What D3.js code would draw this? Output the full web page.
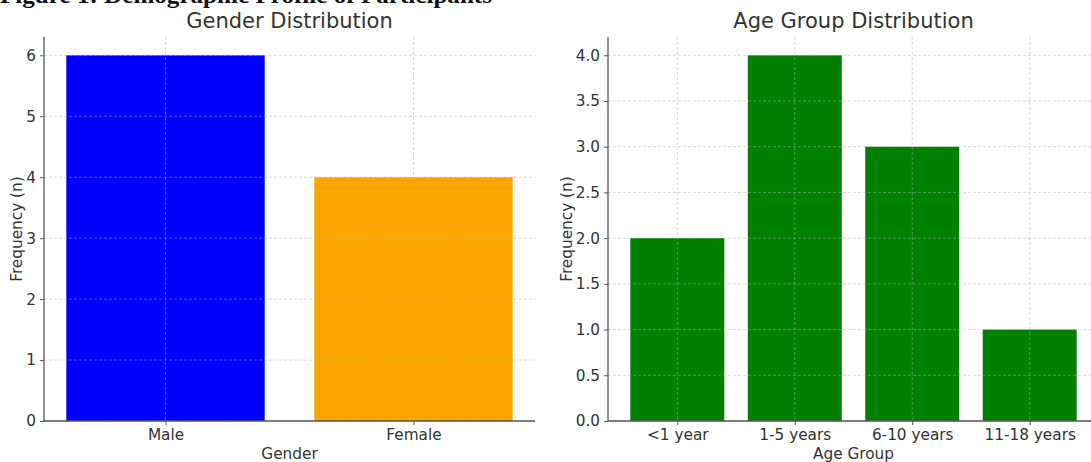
<!DOCTYPE html>
<html><head><meta charset="utf-8">
<script src="https://cdn.jsdelivr.net/npm/d3@7"></script>
<style>body{margin:0;background:#fff}svg{display:block}</style>
</head><body>
<script>
const caption = "Figure 1: Demographic Profile of Participants";
const genderCats = ["Male", "Female"];
const genderVals = [6, 4];
const genderColors = ["#0000ff", "#ffa500"];
const genderTicks = [0, 1, 2, 3, 4, 5, 6];
const ageCats = ["<1 year", "1-5 years", "6-10 years", "11-18 years"];
const ageVals = [2, 4, 3, 1];
const ageColor = "#008000";
const ageTicks = [0, 0.5, 1.0, 1.5, 2.0, 2.5, 3.0, 3.5, 4.0];

const W = 1091, H = 462;
const svg = d3.select("body").append("svg").attr("width", W).attr("height", H);
const font = "DejaVu Sans, sans-serif";
const txt = "#333";

svg.append("text").attr("x", 0).attr("y", 3)
  .attr("font-family", "Liberation Serif, serif").attr("font-weight", "bold")
  .attr("font-size", 24).attr("fill", "#111")
  .attr("textLength", 492).attr("lengthAdjust", "spacingAndGlyphs").text(caption);

function panel(opts) {
  const {x0, x1, top, bottom, cats, vals, colors, ticks, ymax, fmt, title, xlabel, ylabelX} = opts;
  const n = cats.length;
  const m = 0.05 * (n - 1 + 0.8);
  const x = d3.scaleLinear().domain([-0.4 - m, n - 1 + 0.4 + m]).range([x0, x1]);
  const y = d3.scaleLinear().domain([0, ymax]).range([bottom, top]);
  const g = svg.append("g");
  const unit = x(1) - x(0);
  g.selectAll("rect.bar").data(vals).enter().append("rect")
    .attr("x", (d, i) => x(i - 0.4)).attr("width", 0.8 * unit)
    .attr("y", d => y(d)).attr("height", d => y(0) - y(d))
    .attr("fill", (d, i) => colors[i]);
  const grid = g.append("g").attr("stroke", "#b0b0b0").attr("stroke-width", 0.8)
    .attr("stroke-dasharray", "3,2").attr("opacity", 0.6);
  ticks.forEach(t => grid.append("line").attr("x1", x0).attr("x2", x1).attr("y1", y(t)).attr("y2", y(t)));
  cats.forEach((c, i) => grid.append("line").attr("x1", x(i)).attr("x2", x(i)).attr("y1", top).attr("y2", bottom));
  const ya = g.append("g").attr("transform", `translate(${x0},0)`)
    .call(d3.axisLeft(y).tickValues(ticks).tickFormat(fmt).tickSize(4).tickPadding(4));
  const xa = g.append("g").attr("transform", `translate(0,${bottom})`)
    .call(d3.axisBottom(x).tickValues(d3.range(n)).tickFormat(i => cats[i]).tickSize(4).tickPadding(4));
  [ya, xa].forEach(a => {
    a.select(".domain").attr("stroke", "#555").attr("stroke-width", 1.3);
    a.selectAll(".tick line").attr("stroke", "#555");
    a.selectAll("text").attr("font-family", font).attr("font-size", 15.3).attr("fill", txt);
  });
  ya.select(".domain").attr("d", `M0,${bottom}V${top}`);
  xa.select(".domain").attr("d", `M${x0},0H${x1}`);
  g.append("text").attr("x", (x0 + x1) / 2).attr("y", 28).attr("text-anchor", "middle")
    .attr("font-family", font).attr("font-size", 21).attr("fill", txt).text(title);
  g.append("text").attr("x", (x0 + x1) / 2).attr("y", 459).attr("text-anchor", "middle")
    .attr("font-family", font).attr("font-size", 15.3).attr("fill", txt).text(xlabel);
  g.append("text").attr("transform", `translate(${ylabelX},${(top + bottom) / 2}) rotate(-90)`)
    .attr("text-anchor", "middle").attr("font-family", font).attr("font-size", 15.3)
    .attr("fill", txt).text("Frequency (n)");
}

panel({x0: 44, x1: 535, top: 37, bottom: 421, cats: genderCats, vals: genderVals,
  colors: genderColors, ticks: genderTicks, ymax: 6.3, fmt: d3.format("d"),
  title: "Gender Distribution", xlabel: "Gender", ylabelX: 22});
panel({x0: 608, x1: 1099, top: 37, bottom: 421, cats: ageCats, vals: ageVals,
  colors: ageCats.map(() => ageColor), ticks: ageTicks, ymax: 4.2, fmt: d3.format(".1f"),
  title: "Age Group Distribution", xlabel: "Age Group", ylabelX: 572});
</script>
</body></html>
